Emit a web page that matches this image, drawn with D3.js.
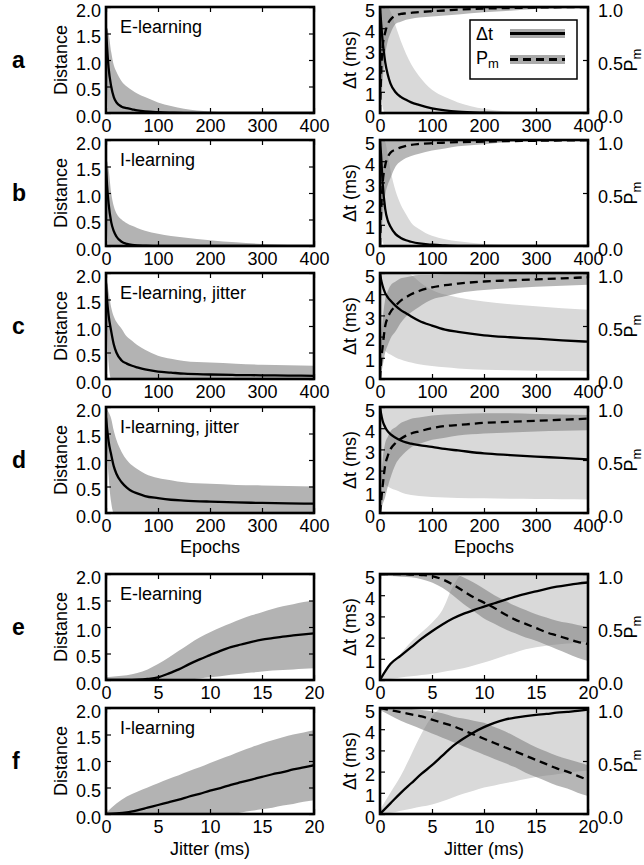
<!DOCTYPE html>
<html>
<head>
<meta charset="utf-8">
<script src="https://cdn.jsdelivr.net/npm/d3@7"></script>
<style>
  body { margin: 0; background: #fff; }
  svg { display: block; }
  text { font-family: "Liberation Sans", Arial, Helvetica, sans-serif; fill: #000; }
</style>
</head>
<body>
<svg id="fig" width="644" height="865"></svg>
<script>
// ---- x grids ----
const epochs = [0, 2, 5, 10, 15, 20, 30, 40, 50, 60, 75, 100, 125, 150, 200, 250, 300, 350, 400];
const jitter = [0, 1, 2, 3, 4, 5, 6, 7, 8, 9, 10, 11, 12, 13, 14, 15, 16, 17, 18, 19, 20];

const epochTicks = [0, 100, 200, 300, 400];
const jitterTicks = [0, 5, 10, 15, 20];
const distTicks = [0, 0.5, 1.0, 1.5, 2.0];
const dtTicks = [0, 1, 2, 3, 4, 5];
const pmTicks = [0, 0.5, 1.0];

const panelLetters = ["a", "b", "c", "d", "e", "f"];
const panelTitles = ["E-learning", "I-learning", "E-learning, jitter", "I-learning, jitter", "E-learning", "I-learning"];

// ---- distance (mean with spread) ----
const distA_mean = [1.6, 1.25, 0.85, 0.5, 0.3, 0.2, 0.12, 0.09, 0.07, 0.05, 0.03, 0.015, 0.008, 0.004, 0.001, 0, 0, 0, 0];
const distA_hi   = [1.6, 1.6, 1.5, 1.15, 0.9, 0.78, 0.6, 0.5, 0.43, 0.37, 0.3, 0.2, 0.13, 0.08, 0.03, 0.01, 0.003, 0, 0];
const distA_lo   = [1.6, 0.6, 0, 0, 0, 0, 0, 0, 0, 0, 0, 0, 0, 0, 0, 0, 0, 0, 0];

const distB_mean = [1.5, 1.15, 0.8, 0.45, 0.28, 0.18, 0.08, 0.04, 0.02, 0.01, 0.005, 0, 0, 0, 0, 0, 0, 0, 0];
const distB_hi   = [1.6, 1.6, 1.45, 1.0, 0.75, 0.62, 0.5, 0.43, 0.38, 0.34, 0.29, 0.23, 0.19, 0.16, 0.11, 0.07, 0.04, 0.02, 0];
const distB_lo   = [1.5, 0.5, 0, 0, 0, 0, 0, 0, 0, 0, 0, 0, 0, 0, 0, 0, 0, 0, 0];

const distC_mean = [1.8, 1.5, 1.2, 0.9, 0.65, 0.5, 0.35, 0.29, 0.25, 0.22, 0.18, 0.14, 0.12, 0.1, 0.085, 0.075, 0.07, 0.065, 0.06];
const distC_hi   = [1.9, 1.85, 1.65, 1.35, 1.18, 1.08, 0.95, 0.8, 0.72, 0.64, 0.55, 0.44, 0.38, 0.34, 0.31, 0.29, 0.27, 0.26, 0.25];
const distC_lo   = [1.8, 1.0, 0.3, 0, 0, 0, 0, 0, 0, 0, 0, 0, 0, 0, 0, 0, 0, 0, 0];

const distD_mean = [1.8, 1.6, 1.35, 1.1, 0.88, 0.74, 0.58, 0.48, 0.41, 0.37, 0.32, 0.28, 0.25, 0.235, 0.215, 0.2, 0.19, 0.18, 0.175];
const distD_hi   = [1.95, 1.95, 1.9, 1.78, 1.55, 1.38, 1.15, 1.0, 0.9, 0.83, 0.74, 0.66, 0.62, 0.58, 0.55, 0.53, 0.52, 0.51, 0.5];
const distD_lo   = [1.8, 1.2, 0.7, 0.2, 0, 0, 0, 0, 0, 0, 0, 0, 0, 0, 0, 0, 0, 0, 0];

const distE_mean = [0, 0, 0, 0.005, 0.02, 0.05, 0.12, 0.2, 0.3, 0.39, 0.47, 0.55, 0.62, 0.67, 0.72, 0.76, 0.79, 0.82, 0.84, 0.86, 0.88];
const distE_hi   = [0.05, 0.07, 0.09, 0.13, 0.2, 0.3, 0.42, 0.55, 0.68, 0.8, 0.9, 0.99, 1.07, 1.15, 1.22, 1.28, 1.34, 1.39, 1.43, 1.47, 1.5];
const distE_lo   = [0, 0, 0, 0, 0, 0, 0, 0, 0.01, 0.03, 0.05, 0.07, 0.1, 0.12, 0.14, 0.16, 0.18, 0.19, 0.2, 0.21, 0.22];

const distF_mean = [0, 0.01, 0.03, 0.07, 0.12, 0.17, 0.22, 0.27, 0.33, 0.38, 0.44, 0.49, 0.55, 0.6, 0.65, 0.7, 0.75, 0.79, 0.84, 0.88, 0.92];
const distF_hi   = [0.02, 0.2, 0.33, 0.42, 0.5, 0.58, 0.66, 0.73, 0.81, 0.88, 0.96, 1.04, 1.11, 1.19, 1.26, 1.33, 1.39, 1.45, 1.5, 1.54, 1.58];
const distF_lo   = [0, 0, 0, 0, 0, 0, 0, 0, 0, 0, 0, 0, 0, 0.03, 0.06, 0.09, 0.12, 0.16, 0.19, 0.23, 0.26];

// ---- delay Δt (ms) and P_m, mean with spread ----
const dtA    = [5, 4.3, 3.4, 2.4, 1.8, 1.4, 0.98, 0.76, 0.62, 0.5, 0.38, 0.22, 0.12, 0.06, 0.015, 0, 0, 0, 0];
const dtA_hi = [5, 5, 5, 5, 5, 4.8, 4.1, 3.4, 2.8, 2.3, 1.75, 1.1, 0.75, 0.5, 0.2, 0.06, 0.01, 0, 0];
const dtA_lo = [5, 2, 0.3, 0, 0, 0, 0, 0, 0, 0, 0, 0, 0, 0, 0, 0, 0, 0, 0];
const pmA    = [0, 0.35, 0.62, 0.76, 0.84, 0.88, 0.92, 0.935, 0.94, 0.945, 0.952, 0.96, 0.967, 0.975, 0.985, 0.99, 0.995, 0.998, 1.0];
const pmA_hi = [0, 0.8, 1, 1, 1, 1, 1, 1, 1, 1, 1, 1, 1, 1, 1, 1, 1, 1, 1];
const pmA_lo = [0, 0.1, 0.3, 0.55, 0.68, 0.75, 0.84, 0.86, 0.88, 0.89, 0.9, 0.91, 0.92, 0.93, 0.95, 0.965, 0.98, 0.985, 0.99];

const dtB    = [5, 4.3, 3.0, 1.75, 1.2, 0.92, 0.56, 0.38, 0.27, 0.2, 0.12, 0.06, 0.03, 0.01, 0, 0, 0, 0, 0];
const dtB_hi = [5, 5, 5, 4.9, 4.3, 3.6, 2.6, 1.95, 1.5, 1.1, 0.8, 0.48, 0.32, 0.22, 0.1, 0.04, 0.01, 0, 0];
const dtB_lo = [5, 1.5, 0.2, 0, 0, 0, 0, 0, 0, 0, 0, 0, 0, 0, 0, 0, 0, 0, 0];
const pmB    = [0, 0.3, 0.58, 0.76, 0.84, 0.88, 0.91, 0.93, 0.945, 0.955, 0.963, 0.97, 0.975, 0.98, 0.985, 0.99, 0.993, 0.996, 0.998];
const pmB_hi = [0, 0.8, 1, 1, 1, 1, 1, 1, 1, 1, 1, 1, 1, 1, 1, 1, 1, 1, 1];
const pmB_lo = [0, 0.1, 0.25, 0.48, 0.58, 0.64, 0.75, 0.8, 0.83, 0.85, 0.87, 0.9, 0.92, 0.94, 0.96, 0.98, 0.99, 0.995, 1.0];

const dtC    = [5, 4.7, 4.4, 4.05, 3.85, 3.7, 3.45, 3.25, 3.1, 2.95, 2.75, 2.52, 2.33, 2.22, 2.06, 1.97, 1.9, 1.82, 1.76];
const dtC_hi = [5, 5, 5, 5, 5, 5, 5, 5, 5, 4.9, 4.6, 4.2, 3.98, 3.85, 3.66, 3.53, 3.43, 3.34, 3.27];
const dtC_lo = [1.6, 1.5, 1.42, 1.32, 1.22, 1.15, 1.02, 0.92, 0.84, 0.78, 0.7, 0.61, 0.55, 0.5, 0.44, 0.41, 0.39, 0.38, 0.37];
const pmC    = [0, 0.15, 0.3, 0.5, 0.58, 0.63, 0.69, 0.74, 0.77, 0.8, 0.83, 0.865, 0.885, 0.9, 0.92, 0.93, 0.94, 0.95, 0.96];
const pmC_hi = [0, 0.35, 0.55, 0.75, 0.83, 0.88, 0.92, 0.95, 0.96, 0.97, 0.98, 0.98, 0.985, 0.985, 0.99, 0.99, 0.99, 0.99, 0.99];
const pmC_lo = [0, 0.05, 0.12, 0.25, 0.32, 0.38, 0.45, 0.53, 0.59, 0.63, 0.68, 0.75, 0.78, 0.81, 0.84, 0.855, 0.87, 0.88, 0.89];

const dtD    = [5, 4.7, 4.35, 4.05, 3.85, 3.72, 3.55, 3.42, 3.33, 3.27, 3.2, 3.12, 3.02, 2.95, 2.81, 2.73, 2.66, 2.6, 2.53];
const dtD_hi = [5, 5, 5, 5, 5, 5, 5, 5, 5, 5, 5, 5, 5, 5, 5, 5, 5, 5, 5];
const dtD_lo = [1.6, 1.5, 1.42, 1.32, 1.25, 1.18, 1.08, 0.98, 0.9, 0.85, 0.8, 0.76, 0.73, 0.71, 0.69, 0.67, 0.66, 0.65, 0.64];
const pmD    = [0, 0.1, 0.25, 0.45, 0.54, 0.6, 0.66, 0.7, 0.73, 0.75, 0.77, 0.8, 0.82, 0.83, 0.85, 0.86, 0.87, 0.88, 0.89];
const pmD_hi = [0, 0.3, 0.5, 0.66, 0.72, 0.77, 0.81, 0.85, 0.87, 0.89, 0.9, 0.92, 0.93, 0.935, 0.94, 0.94, 0.935, 0.93, 0.925];
const pmD_lo = [0, 0.03, 0.08, 0.15, 0.25, 0.33, 0.46, 0.53, 0.58, 0.62, 0.65, 0.69, 0.71, 0.73, 0.75, 0.76, 0.77, 0.775, 0.78];

const dtE    = [0, 0.75, 1.15, 1.55, 1.95, 2.3, 2.62, 2.9, 3.12, 3.3, 3.46, 3.62, 3.78, 3.93, 4.06, 4.18, 4.3, 4.4, 4.48, 4.55, 4.6];
const dtE_hi = [0.1, 0.7, 1.25, 1.8, 2.25, 2.7, 3.3, 4.4, 5, 5, 5, 5, 5, 5, 5, 5, 5, 5, 5, 5, 5];
const dtE_lo = [0, 0.05, 0.12, 0.18, 0.24, 0.3, 0.38, 0.46, 0.55, 0.68, 0.82, 0.98, 1.14, 1.3, 1.45, 1.55, 1.62, 1.68, 1.72, 1.76, 1.8];
const pmE    = [1, 1, 1, 0.995, 0.99, 0.98, 0.95, 0.9, 0.84, 0.78, 0.73, 0.68, 0.62, 0.57, 0.53, 0.49, 0.45, 0.42, 0.39, 0.36, 0.34];
const pmE_hi = [1, 1, 1, 1, 1, 1, 1, 1, 0.97, 0.92, 0.86, 0.8, 0.75, 0.7, 0.66, 0.62, 0.59, 0.56, 0.54, 0.52, 0.5];
const pmE_lo = [0.98, 0.98, 0.975, 0.97, 0.95, 0.92, 0.87, 0.8, 0.72, 0.65, 0.58, 0.53, 0.48, 0.44, 0.4, 0.37, 0.33, 0.29, 0.25, 0.21, 0.18];

const dtF    = [0, 0.5, 1.0, 1.45, 1.9, 2.3, 2.75, 3.2, 3.55, 3.85, 4.1, 4.3, 4.45, 4.55, 4.62, 4.68, 4.72, 4.78, 4.82, 4.86, 4.92];
const dtF_hi = [0.2, 1.0, 1.8, 2.8, 3.8, 4.6, 5, 5, 5, 5, 5, 5, 5, 5, 5, 5, 5, 5, 5, 5, 5];
const dtF_lo = [0, 0.05, 0.15, 0.25, 0.35, 0.45, 0.6, 0.78, 0.95, 1.1, 1.25, 1.35, 1.45, 1.55, 1.65, 1.75, 1.82, 1.88, 1.95, 2.0, 2.05];
const pmF    = [1, 0.98, 0.96, 0.94, 0.92, 0.89, 0.86, 0.83, 0.79, 0.75, 0.71, 0.67, 0.63, 0.59, 0.55, 0.51, 0.47, 0.43, 0.4, 0.36, 0.32];
const pmF_hi = [1, 1, 1, 0.99, 0.98, 0.97, 0.95, 0.92, 0.9, 0.88, 0.86, 0.82, 0.78, 0.73, 0.68, 0.63, 0.59, 0.55, 0.52, 0.49, 0.46];
const pmF_lo = [0.98, 0.93, 0.88, 0.84, 0.8, 0.76, 0.72, 0.68, 0.64, 0.6, 0.56, 0.52, 0.48, 0.44, 0.39, 0.35, 0.31, 0.27, 0.24, 0.2, 0.17];

// ---- layout ----
const svg = d3.select("#fig");
const FONT = 18;
const LEFT_X = [106, 314];
const RIGHT_X = [380, 588];
const TOPS = [7, 140, 273, 407, 574, 708];
const H = 106;

const C_DIST_BAND = "#b3b3b3";
const C_DT_BAND = "#d9d9d9";
const C_PM_BAND = "#7a7a7a";
const PM_BAND_OPACITY = 0.55;

let clipId = 0;

function styleAxis(g, vertical) {
  g.select(".domain").remove();
  g.selectAll(".tick line").attr("stroke", "#000").attr("stroke-width", 1.2);
  const t = g.selectAll(".tick text").attr("font-size", FONT)
    .attr("font-family", "'Liberation Sans', Arial, sans-serif").attr("fill", "#000");
  // vertical tick labels sit a little below their tick
  if (vertical) t.attr("dy", "0.5em");
  g.attr("font-size", null).attr("font-family", null);
}

function frame(g, x, y, xTicks, fmtX) {
  const gb = g.append("g").attr("transform", `translate(0,${y.range()[0]})`)
    .call(d3.axisBottom(x).tickValues(xTicks).tickSizeInner(-5).tickSizeOuter(0)
      .tickPadding(6).tickFormat(fmtX));
  styleAxis(gb, false);
  const gt = g.append("g").attr("transform", `translate(0,${y.range()[1]})`)
    .call(d3.axisTop(x).tickValues(xTicks).tickSizeInner(-5).tickSizeOuter(0).tickFormat(""));
  styleAxis(gt, false);
}

function border(g, x, y) {
  g.append("rect")
    .attr("x", x.range()[0]).attr("y", y.range()[1])
    .attr("width", x.range()[1] - x.range()[0]).attr("height", y.range()[0] - y.range()[1])
    .attr("fill", "none").attr("stroke", "#000").attr("stroke-width", 2.6);
}

function clipFor(x, y) {
  const id = "clip" + (clipId++);
  svg.append("clipPath").attr("id", id).append("rect")
    .attr("x", x.range()[0]).attr("y", y.range()[1])
    .attr("width", x.range()[1] - x.range()[0]).attr("height", y.range()[0] - y.range()[1]);
  return `url(#${id})`;
}

function band(g, xs, lo, hi, x, y) {
  return g.append("path")
    .datum(xs.map((v, i) => [v, lo[i], hi[i]]))
    .attr("d", d3.area().curve(d3.curveMonotoneX)
      .x(d => x(d[0])).y0(d => y(d[1])).y1(d => y(d[2])));
}

function line(g, xs, ys, x, y) {
  return g.append("path")
    .datum(xs.map((v, i) => [v, ys[i]]))
    .attr("fill", "none").attr("stroke", "#000").attr("stroke-width", 2.3)
    .attr("d", d3.line().curve(d3.curveMonotoneX).x(d => x(d[0])).y(d => y(d[1])));
}

function pmLabel(sel, fontSize) {
  sel.append("tspan").text("P");
  sel.append("tspan").attr("font-size", fontSize).attr("dy", 4).text("m");
}

function distancePanel(idx, xs, xDomain, xTicks, mean, lo, hi) {
  const top = TOPS[idx];
  const x = d3.scaleLinear().domain(xDomain).range(LEFT_X);
  const y = d3.scaleLinear().domain([0, 2]).range([top + H, top]);
  const g = svg.append("g");
  const plot = g.append("g").attr("clip-path", clipFor(x, y));
  band(plot, xs, lo, hi, x, y).attr("fill", C_DIST_BAND);
  line(plot, xs, mean, x, y);

  frame(g, x, y, xTicks, d3.format("d"));
  const gl = g.append("g").attr("transform", `translate(${LEFT_X[0]},0)`)
    .call(d3.axisLeft(y).tickValues(distTicks).tickSizeInner(-5).tickSizeOuter(0)
      .tickPadding(5).tickFormat(d3.format(".1f")));
  styleAxis(gl, true);
  const gr = g.append("g").attr("transform", `translate(${LEFT_X[1]},0)`)
    .call(d3.axisRight(y).tickValues(distTicks).tickSizeInner(-5).tickSizeOuter(0).tickFormat(""));
  styleAxis(gr, true);
  border(g, x, y);

  g.append("text").attr("transform", `translate(67,${top + H / 2}) rotate(-90)`)
    .attr("text-anchor", "middle").attr("font-size", FONT).text("Distance");
  g.append("text").attr("x", LEFT_X[0] + 14).attr("y", top + 26)
    .attr("font-size", FONT).text(panelTitles[idx]);
  g.append("text").attr("x", 12).attr("y", top + 61)
    .attr("font-size", 23).attr("font-weight", "bold").text(panelLetters[idx]);
}

function timingPanel(idx, xs, xDomain, xTicks, dt, dtLo, dtHi, pm, pmLo, pmHi) {
  const top = TOPS[idx];
  const x = d3.scaleLinear().domain(xDomain).range(RIGHT_X);
  const yDt = d3.scaleLinear().domain([0, 5]).range([top + H, top]);
  const yPm = d3.scaleLinear().domain([0, 1]).range([top + H, top]);
  const g = svg.append("g");
  const plot = g.append("g").attr("clip-path", clipFor(x, yDt));
  band(plot, xs, dtLo, dtHi, x, yDt).attr("fill", C_DT_BAND);
  band(plot, xs, pmLo, pmHi, x, yPm).attr("fill", C_PM_BAND).attr("fill-opacity", PM_BAND_OPACITY);
  line(plot, xs, dt, x, yDt);
  line(plot, xs, pm, x, yPm).attr("stroke-dasharray", "8,5");

  frame(g, x, yDt, xTicks, d3.format("d"));
  const gl = g.append("g").attr("transform", `translate(${RIGHT_X[0]},0)`)
    .call(d3.axisLeft(yDt).tickValues(dtTicks).tickSizeInner(-5).tickSizeOuter(0)
      .tickPadding(5).tickFormat(d3.format("d")));
  styleAxis(gl, true);
  const gr = g.append("g").attr("transform", `translate(${RIGHT_X[1]},0)`)
    .call(d3.axisRight(yPm).tickValues(pmTicks).tickSizeInner(-5).tickSizeOuter(0)
      .tickPadding(10).tickFormat(d3.format(".1f")));
  styleAxis(gr, true);
  border(g, x, yDt);

  g.append("text").attr("transform", `translate(356,${top + H / 2}) rotate(-90)`)
    .attr("text-anchor", "middle").attr("font-size", FONT).text("\u0394t (ms)");
  const pl = g.append("text").attr("transform", `translate(637,${top + H / 2}) rotate(-90)`)
    .attr("text-anchor", "middle").attr("font-size", FONT);
  pmLabel(pl, 13);
}

distancePanel(0, epochs, [0, 400], epochTicks, distA_mean, distA_lo, distA_hi);
distancePanel(1, epochs, [0, 400], epochTicks, distB_mean, distB_lo, distB_hi);
distancePanel(2, epochs, [0, 400], epochTicks, distC_mean, distC_lo, distC_hi);
distancePanel(3, epochs, [0, 400], epochTicks, distD_mean, distD_lo, distD_hi);
distancePanel(4, jitter, [0, 20], jitterTicks, distE_mean, distE_lo, distE_hi);
distancePanel(5, jitter, [0, 20], jitterTicks, distF_mean, distF_lo, distF_hi);

timingPanel(0, epochs, [0, 400], epochTicks, dtA, dtA_lo, dtA_hi, pmA, pmA_lo, pmA_hi);
timingPanel(1, epochs, [0, 400], epochTicks, dtB, dtB_lo, dtB_hi, pmB, pmB_lo, pmB_hi);
timingPanel(2, epochs, [0, 400], epochTicks, dtC, dtC_lo, dtC_hi, pmC, pmC_lo, pmC_hi);
timingPanel(3, epochs, [0, 400], epochTicks, dtD, dtD_lo, dtD_hi, pmD, pmD_lo, pmD_hi);
timingPanel(4, jitter, [0, 20], jitterTicks, dtE, dtE_lo, dtE_hi, pmE, pmE_lo, pmE_hi);
timingPanel(5, jitter, [0, 20], jitterTicks, dtF, dtF_lo, dtF_hi, pmF, pmF_lo, pmF_hi);

// x-axis titles
[["Epochs", 553], ["Jitter (ms)", 855]].forEach(([label, yb]) => {
  [210, 484].forEach(cx => {
    svg.append("text").attr("x", cx).attr("y", yb).attr("text-anchor", "middle")
      .attr("font-size", FONT).text(label);
  });
});

// legend in panel a (right)
const lg = svg.append("g");
lg.append("rect").attr("x", 470).attr("y", 20).attr("width", 107).attr("height", 59)
  .attr("fill", "#fff").attr("stroke", "#000").attr("stroke-width", 1.5);
lg.append("text").attr("x", 476).attr("y", 40).attr("font-size", FONT).text("\u0394t");
lg.append("rect").attr("x", 510).attr("y", 29).attr("width", 55).attr("height", 9).attr("fill", "#aaaaaa");
lg.append("line").attr("x1", 510).attr("x2", 565).attr("y1", 33.5).attr("y2", 33.5)
  .attr("stroke", "#000").attr("stroke-width", 3);
const lp = lg.append("text").attr("x", 476).attr("y", 64).attr("font-size", FONT);
pmLabel(lp, 13);
lg.append("rect").attr("x", 510).attr("y", 55).attr("width", 55).attr("height", 9).attr("fill", "#aaaaaa");
lg.append("line").attr("x1", 510).attr("x2", 565).attr("y1", 59.5).attr("y2", 59.5)
  .attr("stroke", "#000").attr("stroke-width", 3).attr("stroke-dasharray", "8,5");
</script>
</body>
</html>
